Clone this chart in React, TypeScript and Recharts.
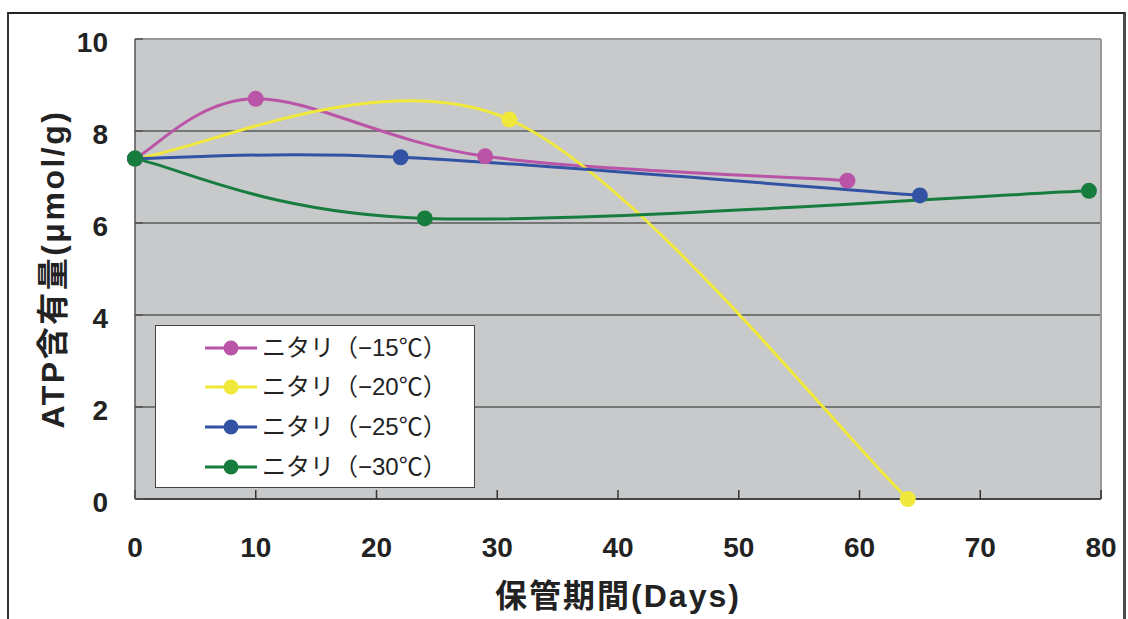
import React from "react"
import {
	LineChart,
	Line,
	XAxis,
	YAxis,
	CartesianGrid,
	ReferenceLine,
	Legend,
	Label,
} from "recharts"

// storage days / ATP content for each freezing temperature
const days15 = [0, 10, 29, 59]
const atp15 = [7.4, 8.7, 7.45, 6.92]
const days20 = [0, 31, 64]
const atp20 = [7.4, 8.25, 0]
const days25 = [0, 22, 65]
const atp25 = [7.4, 7.43, 6.6]
const days30 = [0, 24, 79]
const atp30 = [7.4, 6.1, 6.7]

const seriesNames = [
	"ニタリ（−15℃）",
	"ニタリ（−20℃）",
	"ニタリ（−25℃）",
	"ニタリ（−30℃）",
]
const seriesColors = ["#b954a6", "#f0e83a", "#3252a4", "#177d3e"]

const xTicks = [0, 10, 20, 30, 40, 50, 60, 70, 80]
const yTicks = [0, 2, 4, 6, 8, 10]

const toPoints = (days: number[], atp: number[]) =>
	days.map((day, i) => ({ day, atp: atp[i] }))

const series = [
	toPoints(days15, atp15),
	toPoints(days20, atp20),
	toPoints(days25, atp25),
	toPoints(days30, atp30),
]

const FONT = '"Liberation Sans", "Noto Sans CJK JP", Arial, sans-serif'

// Catmull-Rom style smoothing (spreadsheet "smoothed line")
const smoothCurve = (context: any) => {
	let pts: number[][] = []
	return {
		areaStart() {},
		areaEnd() {},
		lineStart() {
			pts = []
		},
		point(x: number, y: number) {
			pts.push([+x, +y])
		},
		lineEnd() {
			if (!pts.length) return
			context.moveTo(pts[0][0], pts[0][1])
			for (let i = 0; i < pts.length - 1; i++) {
				const p0 = pts[Math.max(i - 1, 0)]
				const p1 = pts[i]
				const p2 = pts[i + 1]
				const p3 = pts[Math.min(i + 2, pts.length - 1)]
				context.bezierCurveTo(
					p1[0] + (p2[0] - p0[0]) / 6,
					p1[1] + (p2[1] - p0[1]) / 6,
					p2[0] - (p3[0] - p1[0]) / 6,
					p2[1] - (p3[1] - p1[1]) / 6,
					p2[0],
					p2[1]
				)
			}
		},
	}
}

const LegendBox = () => (
	<div
		style={{
			width: 320,
			height: 163,
			boxSizing: "border-box",
			background: "#fff",
			border: "1.5px solid #444",
			paddingTop: 2,
		}}>
		{seriesNames.map((name, i) => (
			<div
				key={name}
				style={{ display: "flex", alignItems: "center", height: 39.6 }}>
				<svg width={52} height={18} style={{ marginLeft: 49 }}>
					<line x1={0} x2={52} y1={9} y2={9} stroke={seriesColors[i]} strokeWidth={3} />
					<circle cx={26} cy={9} r={7.5} fill={seriesColors[i]} />
				</svg>
				<span
					style={{
						marginLeft: 5,
						fontSize: 24,
						fontFamily: FONT,
						color: "#222",
						lineHeight: 1,
					}}>
					{name}
				</span>
			</div>
		))}
	</div>
)

const XTitle = (props: any) => {
	const { x, y, width } = props.viewBox
	return (
		<text
			x={x + width / 2}
			y={y + 108}
			textAnchor="middle"
			fill="#222"
			fontSize={32}
			fontWeight={700}
			letterSpacing={2}
			fontFamily={FONT}>
			保管期間(Days)
		</text>
	)
}

const YTitle = (props: any) => {
	const { y, height } = props.viewBox
	const cx = 53
	const cy = y + height / 2
	return (
		<text
			x={cx}
			y={cy}
			transform={`rotate(-90, ${cx}, ${cy})`}
			textAnchor="middle"
			dominantBaseline="central"
			fill="#222"
			fontSize={32}
			fontWeight={700}
			letterSpacing={2.5}
			fontFamily={FONT}>
			ATP含有量(μmol/g)
		</text>
	)
}

const tickStyle = {
	fill: "#222",
	fontSize: 28,
	fontWeight: 700,
	fontFamily: FONT,
}

export default function App() {
	return (
		<div style={{ position: "absolute", left: 0, top: 0, width: 1128, height: 619, background: "#fff" }}>
			<div
				style={{
					position: "absolute",
					left: 7,
					top: 12,
					width: 1114,
					height: 640,
					borderTop: "2px solid #222",
					borderLeft: "2px solid #333",
					borderRight: "3px solid #4a4a4a",
				}}
			/>
			<LineChart
				width={1128}
				height={619}
				margin={{ top: 39, right: 27, bottom: 60, left: 25 }}>
				<CartesianGrid
					vertical={false}
					fill="#c8c9cb"
					stroke="#5a5a5a"
					strokeWidth={1.5}
				/>
				<XAxis
					type="number"
					dataKey="day"
					domain={[0, 80]}
					ticks={xTicks}
					height={60}
					tickSize={-9}
					tickMargin={47}
					stroke="#333"
					strokeWidth={1.5}
					tick={tickStyle}>
					<Label content={<XTitle />} />
				</XAxis>
				<YAxis
					type="number"
					domain={[0, 10]}
					ticks={yTicks}
					width={110}
					tickSize={-8}
					tickMargin={35}
					stroke="#555"
					strokeWidth={1.5}
					tick={{ ...tickStyle, dy: 3 }}>
					<Label content={<YTitle />} />
				</YAxis>
				<ReferenceLine y={10} stroke="#999" strokeWidth={2} />
				<ReferenceLine x={80} stroke="#999" strokeWidth={2} />
				{series.map((points, i) => (
					<Line
						key={seriesNames[i]}
						data={points}
						dataKey="atp"
						name={seriesNames[i]}
						type={smoothCurve as any}
						stroke={seriesColors[i]}
						strokeWidth={3}
						dot={{ r: 8, fill: seriesColors[i], strokeWidth: 0 }}
						activeDot={false}
						isAnimationActive={false}
					/>
				))}
				<Legend
					layout="vertical"
					align="center"
					verticalAlign="middle"
					content={<LegendBox />}
					wrapperStyle={{ left: 155, top: 325, width: 320, height: 163 }}
				/>
			</LineChart>
		</div>
	)
}
